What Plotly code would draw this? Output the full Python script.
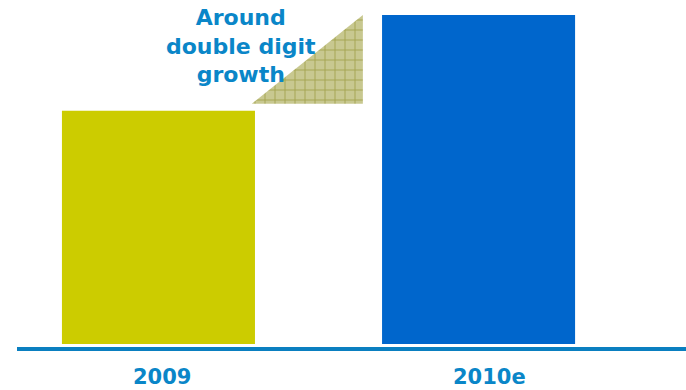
import plotly.graph_objects as go

categories = ["2009", "2010e"]
values = [100, 141]
bar_colors = ["#CCCC00", "#0066CC"]
growth_label = "Around<br>double digit<br>growth"

bar_width = 0.603
x_idx = list(range(len(categories)))

fig = go.Figure()
fig.add_trace(go.Bar(x=x_idx, y=values, width=bar_width,
                     marker=dict(color=bar_colors, line=dict(width=0)),
                     hoverinfo="skip"))

# decorative growth triangle between bars
tri_left = x_idx[0] + bar_width / 2 - 0.01
tri_right = x_idx[1] - bar_width / 2 - 0.06
tri_bottom = values[0] * 1.03
tri_top = values[1]
fig.add_trace(go.Scatter(
    x=[tri_left, tri_right, tri_right, tri_left],
    y=[tri_bottom, tri_bottom, tri_top, tri_bottom],
    mode="lines", line=dict(width=0), fill="toself",
    fillcolor="#C6C68A",
    fillpattern=dict(shape="+", fgcolor="#7F7F10", bgcolor="#C8C890",
                     size=10, solidity=0.18),
    hoverinfo="skip"))

fig.add_shape(type="line", xref="paper", yref="paper",
              x0=17/686, x1=1, y0=-0.015, y1=-0.015,
              line=dict(color="#0A7FC0", width=4))

shifts = [4, 11]
for i, c in enumerate(categories):
    fig.add_annotation(x=x_idx[i], y=-0.1, yref="paper", xshift=shifts[i],
                       text=f"<b>{c}</b>", showarrow=False,
                       xanchor="center", yanchor="middle",
                       font=dict(family="DejaVu Sans", size=21, color="#0A86C8"))

fig.add_annotation(x=0.258, y=0.906, yref="paper", text=f"<b>{growth_label}</b>",
                   showarrow=False, xanchor="center", yanchor="middle",
                   font=dict(family="DejaVu Sans", size=22, color="#0A86C8"))

fig.update_layout(
    width=686, height=390,
    margin=dict(l=0, r=0, t=15, b=46),
    paper_bgcolor="white", plot_bgcolor="white",
    showlegend=False,
    xaxis=dict(range=[-0.495, 1.648], visible=False, fixedrange=True),
    yaxis=dict(range=[0, 141], visible=False, fixedrange=True),
)

fig.write_html("out.html")
